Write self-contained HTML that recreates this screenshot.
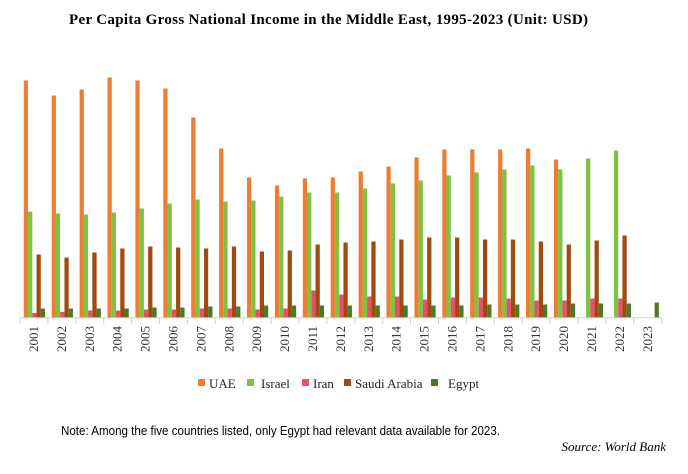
<!DOCTYPE html>
<html><head><meta charset="utf-8"><style>
body{margin:0;background:#fff;width:688px;height:474px;overflow:hidden}
svg{display:block}
</style></head><body>
<svg width="688" height="474" viewBox="0 0 688 474" xmlns="http://www.w3.org/2000/svg">
<text x="69" y="24" textLength="519" lengthAdjust="spacing" font-family="Liberation Serif, serif" font-weight="bold" font-size="15">Per Capita Gross National Income  in the  Middle East,  1995-2023 (Unit:  USD)</text>
<g id="bars"></g>
<line x1="20" y1="317.8" x2="662" y2="317.8" stroke="#d0d0d0" stroke-width="1"/>
<g id="ticks" stroke="#d0d0d0" stroke-width="1"></g>
<g id="labels" font-family="Liberation Serif, serif" font-size="13" fill="#333"></g>
<g font-family="Liberation Serif, serif" font-size="13" fill="#222">
<rect x="198" y="379" width="7" height="7" fill="#ED7D31"/><text x="209" y="388">UAE</text>
<rect x="247" y="379" width="7" height="7" fill="#7DC242"/><text x="261" y="388">Israel</text>
<rect x="302" y="379" width="7" height="7" fill="#E5506A"/><text x="313" y="388">Iran</text>
<rect x="344" y="379" width="7" height="7" fill="#A14A10"/><text x="355" y="388">Saudi Arabia</text>
<rect x="431" y="379" width="7" height="7" fill="#4A7A2A"/><text x="448" y="388">Egypt</text>
</g>
<text x="61" y="435" textLength="439" lengthAdjust="spacingAndGlyphs" font-family="Liberation Sans, sans-serif" font-size="13" fill="#000">Note: Among the five countries listed, only  Egypt had relevant  data available for 2023.</text>
<text x="666" y="451" text-anchor="end" font-family="Liberation Serif, serif" font-style="italic" font-size="13" fill="#000">Source:  World  Bank</text>
</svg>
<script>
var d=[
[237,106,4.6,63,9],[222,104,5.6,60,9],[228,103,7,65,9],[240,105,7,69,9],[237,109,8,71,10],
[229,114,8,70,10],[200,118,9,69,11],[169,116,9,71,11],[140,117,8,66,12],[132,121,9,67,12],
[139,125,27,73,12],[140,125,23,75,12],[146,129,21,76,12],[151,134,21,78,12],[160,137,18,80,12],
[168,142,20,80,12],[168,145,20,78,13],[168,148,19,78,13],[169,152,17,76,13],[158,148,17,73,14],
[0,159,19,77,14],[0,167,19,82,14],[0,0,0,0,15]];
var c=["#ED7D31","#7DC242","#E5506A","#A14A10","#4A7A2A"];
var ns="http://www.w3.org/2000/svg",b=document.getElementById("bars"),t=document.getElementById("ticks"),l=document.getElementById("labels");
var step=27.9,base=317.5;
for(var i=0;i<23;i++){var x0=20+i*step;
 for(var j=0;j<5;j++){var h=d[i][j];if(!h)continue;var r=document.createElementNS(ns,"rect");
  r.setAttribute("x",(x0+3.8+j*4.25).toFixed(2));r.setAttribute("width","4.25");r.setAttribute("y",(base-h).toFixed(2));r.setAttribute("height",h);r.setAttribute("fill",c[j]);b.appendChild(r);}
 var ln=document.createElementNS(ns,"line");ln.setAttribute("x1",x0);ln.setAttribute("x2",x0);ln.setAttribute("y1",318);ln.setAttribute("y2",324);t.appendChild(ln);
 var tx=document.createElementNS(ns,"text");var cx=x0+step/2+4,cy=326;
 tx.setAttribute("transform","translate("+cx+","+cy+") rotate(-90)");tx.setAttribute("text-anchor","end");tx.textContent=2001+i;l.appendChild(tx);}
var ln=document.createElementNS(ns,"line");ln.setAttribute("x1",662);ln.setAttribute("x2",662);ln.setAttribute("y1",318);ln.setAttribute("y2",324);t.appendChild(ln);
</script>
</body></html>
